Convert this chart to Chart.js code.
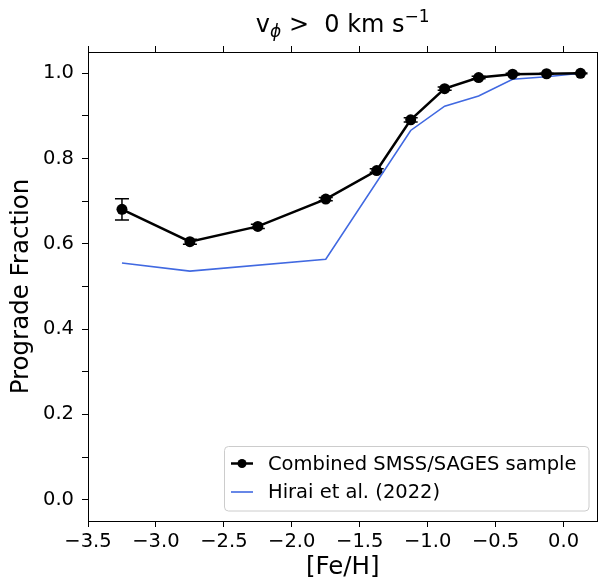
<!DOCTYPE html>
<html>
<head>
<meta charset="utf-8">
<script src="https://cdn.jsdelivr.net/npm/chart.js@4"></script>
<style>
  body { margin: 0; background: #fff; }
  #wrap { width: 598px; height: 582px; }
</style>
</head>
<body>
<div id="wrap"><canvas id="chart" width="598" height="582"></canvas></div>
<script>
// binned [Fe/H] centres and prograde fractions (combined sample)
const feh = [-3.25, -2.75, -2.25, -1.75, -1.375, -1.125, -0.875, -0.625, -0.375, -0.125, 0.125];
const progradeFrac = [0.681, 0.605, 0.641, 0.705, 0.772, 0.891, 0.964, 0.990, 0.998, 0.999, 1.0];
const progradeErr = [0.025, 0.006, 0.005, 0.004, 0.004, 0.005, 0.004, 0.003, 0.002, 0.001, 0.001];

// Hirai et al. (2022) simulation curve
const hiraiFeh = [-3.25, -2.75, -1.75, -1.125, -0.875, -0.625, -0.375, -0.125, 0.125];
const hiraiFrac = [0.555, 0.536, 0.564, 0.866, 0.923, 0.947, 0.986, 0.992, 1.0];

const seriesLabels = ["Combined SMSS/SAGES sample", "Hirai et al. (2022)"];
const xTitle = "[Fe/H]";
const yTitle = "Prograde Fraction";
const xTickValues = [-3.5, -3.0, -2.5, -2.0, -1.5, -1.0, -0.5, 0.0];
const yTickValues = [0.0, 0.1, 0.2, 0.3, 0.4, 0.5, 0.6, 0.7, 0.8, 0.9, 1.0];

const FONT = "'DejaVu Sans', 'Liberation Sans', sans-serif";
Chart.defaults.font.family = FONT;
Chart.defaults.color = "#000";

const fmtMinus = (v) => v.toFixed(1).replace("-", "\u2212");
const setTicks = (vals) => (s) => { s.ticks = vals.map((v) => ({ value: v })); };

// error bars, title with sub/superscripts, matplotlib-like legend
const extras = {
  id: "extras",
  beforeDatasetsDraw(chart) {
    const { ctx, scales } = chart;
    ctx.save();
    ctx.strokeStyle = "#000";
    ctx.lineWidth = 1.5;
    for (let i = 0; i < feh.length; i++) {
      const x = scales.x.getPixelForValue(feh[i]);
      const y0 = scales.y.getPixelForValue(progradeFrac[i] - progradeErr[i]);
      const y1 = scales.y.getPixelForValue(progradeFrac[i] + progradeErr[i]);
      ctx.beginPath();
      ctx.moveTo(x, y0); ctx.lineTo(x, y1);
      ctx.moveTo(x - 7, y0); ctx.lineTo(x + 7, y0);
      ctx.moveTo(x - 7, y1); ctx.lineTo(x + 7, y1);
      ctx.stroke();
    }
    ctx.restore();
  },
  afterDraw(chart) {
    const { ctx, chartArea } = chart;
    ctx.save();
    ctx.fillStyle = "#000";
    ctx.textBaseline = "alphabetic";

    // title: v_phi >  0 km s^-1
    const big = "24px " + FONT, small = "17px " + FONT;
    const parts = [
      { t: "v", f: big, dy: 0 },
      { t: "\u03d5", f: "italic " + small, dy: 5 },
      { t: " >  0 km s", f: big, dy: 0 },
      { t: "\u22121", f: small, dy: -10 },
    ];
    let w = 0;
    parts.forEach((p) => { ctx.font = p.f; p.w = ctx.measureText(p.t).width; w += p.w; });
    let x = (chartArea.left + chartArea.right) / 2 - w / 2;
    const base = 32;
    parts.forEach((p) => { ctx.font = p.f; ctx.fillText(p.t, x, base + p.dy); x += p.w; });

    // legend
    const lx = 224.5, ly = 446.5, lw = 364.5, lh = 64.5;
    ctx.beginPath();
    ctx.roundRect(lx, ly, lw, lh, 4);
    ctx.fillStyle = "rgba(255,255,255,0.8)";
    ctx.fill();
    ctx.strokeStyle = "#cccccc";
    ctx.lineWidth = 1;
    ctx.stroke();

    const ds = chart.data.datasets;
    const rows = [463.5, 492];
    ctx.font = "19.5px " + FONT;
    ctx.textBaseline = "middle";
    rows.forEach((ry, i) => {
      ctx.strokeStyle = ds[i].borderColor;
      ctx.lineWidth = ds[i].borderWidth;
      ctx.beginPath();
      ctx.moveTo(231, ry); ctx.lineTo(253, ry);
      ctx.stroke();
      if (ds[i].pointRadius > 0) {
        ctx.fillStyle = ds[i].borderColor;
        ctx.beginPath();
        ctx.arc(242, ry, 4.5, 0, Math.PI * 2);
        ctx.fill();
      }
      ctx.fillStyle = "#000";
      ctx.fillText(ds[i].label, 268, ry + 1);
    });
    ctx.restore();
  },
};

const axisCommon = {
  type: "linear",
  border: { display: true, color: "#000", width: 1 },
  grid: { drawOnChartArea: false, drawTicks: true, tickLength: 6, tickColor: "#000", tickWidth: 1 },
};

new Chart(document.getElementById("chart"), {
  type: "line",
  data: {
    datasets: [
      {
        label: seriesLabels[0],
        data: feh.map((v, i) => ({ x: v, y: progradeFrac[i] })),
        borderColor: "#000",
        backgroundColor: "#000",
        borderWidth: 2.5,
        pointRadius: 5.5,
        pointBorderWidth: 0,
        pointBackgroundColor: "#000",
        tension: 0,
        clip: false,
      },
      {
        label: seriesLabels[1],
        data: hiraiFeh.map((v, i) => ({ x: v, y: hiraiFrac[i] })),
        borderColor: "#4169e1",
        backgroundColor: "#4169e1",
        borderWidth: 1.6,
        pointRadius: 0,
        tension: 0,
      },
    ],
  },
  options: {
    responsive: false,
    animation: false,
    layout: { autoPadding: false, padding: { top: 46, right: 0.5, left: 0, bottom: 0 } },
    plugins: { legend: { display: false }, title: { display: false }, tooltip: { enabled: false } },
    scales: {
      x: {
        ...axisCommon,
        position: "bottom",
        min: -3.5,
        max: 0.25,
        afterBuildTicks: setTicks(xTickValues),
        ticks: {
          autoSkip: false,
          maxRotation: 0,
          padding: 3,
          font: { size: 19.5 },
          callback: (v) => fmtMinus(v),
        },
        title: { display: true, text: xTitle, font: { size: 24.5 }, padding: { top: 0, bottom: 0 } },
        afterFit: (s) => { s.height = 61; },
      },
      xTop: {
        ...axisCommon,
        position: "top",
        min: -3.5,
        max: 0.25,
        afterBuildTicks: setTicks(xTickValues),
        ticks: { display: false },
        afterFit: (s) => { s.height = 6; },
      },
      y: {
        ...axisCommon,
        position: "left",
        min: -0.05,
        max: 1.05,
        afterBuildTicks: setTicks(yTickValues),
        ticks: {
          autoSkip: false,
          padding: 8,
          font: { size: 19.5 },
          callback: (v) => (Math.round(v * 10) % 2 === 0 ? v.toFixed(1) : ""),
        },
        title: { display: true, text: yTitle, font: { size: 24.5 }, padding: { top: 7, bottom: 0 } },
        afterFit: (s) => { s.width = 88; },
      },
      yRight: {
        type: "linear",
        position: "right",
        min: -0.05,
        max: 1.05,
        border: { display: true, color: "#000", width: 1 },
        grid: { drawOnChartArea: false, drawTicks: false },
        ticks: { display: false },
        afterFit: (s) => { s.width = 0; },
      },
    },
  },
  plugins: [extras],
});
</script>
</body>
</html>
